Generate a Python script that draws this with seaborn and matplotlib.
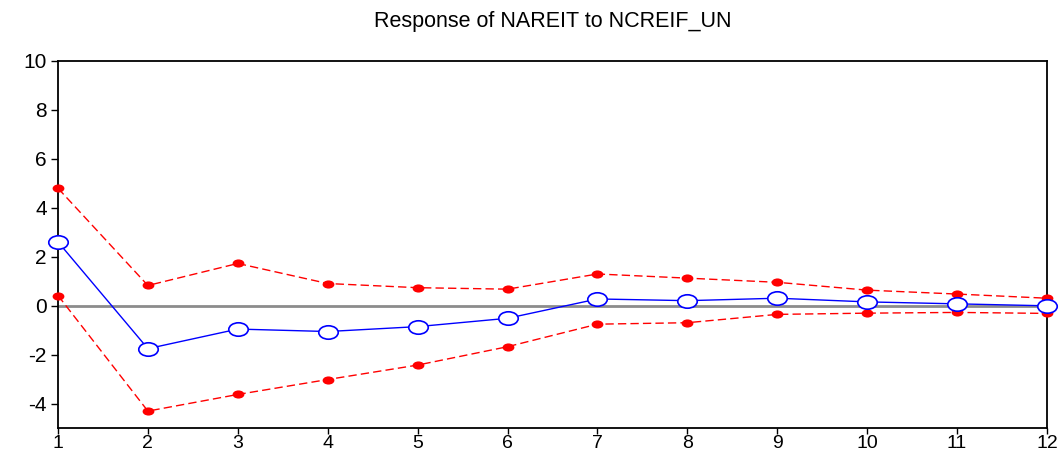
import numpy as np
import pandas as pd
import seaborn as sns
import matplotlib
matplotlib.use("Agg")
import matplotlib.pyplot as plt
from matplotlib.path import Path

periods = [1, 2, 3, 4, 5, 6, 7, 8, 9, 10, 11, 12]
response = [2.60, -1.76, -0.96, -1.06, -0.86, -0.52, 0.27, 0.20, 0.30, 0.15, 0.07, -0.01]
upper = [4.79, 0.82, 1.72, 0.90, 0.73, 0.67, 1.29, 1.12, 0.95, 0.63, 0.47, 0.30]
lower = [0.41, -4.31, -3.63, -3.02, -2.43, -1.68, -0.76, -0.70, -0.36, -0.31, -0.28, -0.32]
y_ticks = [-4, -2, 0, 2, 4, 6, 8, 10]
title = "Response of NAREIT to NCREIF_UN"

sns.set_style("ticks")
plt.rcParams['font.family'] = ['Liberation Sans', 'DejaVu Sans']
plt.rcParams['axes.unicode_minus'] = False

df = pd.DataFrame({"period": periods, "response": response, "upper": upper, "lower": lower})

# elliptical marker (wider than tall, as in the reference)
circ = Path.unit_circle()
ellipse = Path(circ.vertices * np.array([1.45, 1.0]), circ.codes)

fig = plt.figure(figsize=(10.63, 4.54), dpi=100)
ax = fig.add_axes([58 / 1063, 1 - 428 / 454, (1047 - 58) / 1063, (428 - 60.7) / 454])

ax.axhline(0, color="#8c8c8c", lw=2.0, zorder=1)

for col in ["upper", "lower"]:
    sns.lineplot(data=df, x="period", y=col, ax=ax, color="#ff0000", lw=1.0,
                 linestyle=(0, (6, 3)), marker=ellipse, markersize=8.5,
                 markerfacecolor="#ff0000", markeredgecolor="#ff0000",
                 markeredgewidth=0, zorder=3, clip_on=False)

sns.lineplot(data=df, x="period", y="response", ax=ax, color="#0000ff", lw=1.0,
             marker=ellipse, markersize=14, markerfacecolor="white",
             markeredgecolor="#0000ff", markeredgewidth=1.2, zorder=4, clip_on=False)

ax.set_xlim(1, 12)
ax.set_ylim(-5, 10)
ax.set_xticks(periods)
ax.set_yticks(y_ticks)
ax.set_xlabel("")
ax.set_ylabel("")
ax.set_title(title, fontsize=15.5, pad=24, color="black")

for s in ax.spines.values():
    s.set_visible(True)
    s.set_color("black")
    s.set_linewidth(1.3)

ax.tick_params(axis="both", direction="out", length=5, width=1.0, colors="black",
               labelcolor="black", labelsize=15, pad=3)
ax.tick_params(axis="x", length=4, labelsize=14, pad=1)

fig.savefig("out.png", dpi=100)
